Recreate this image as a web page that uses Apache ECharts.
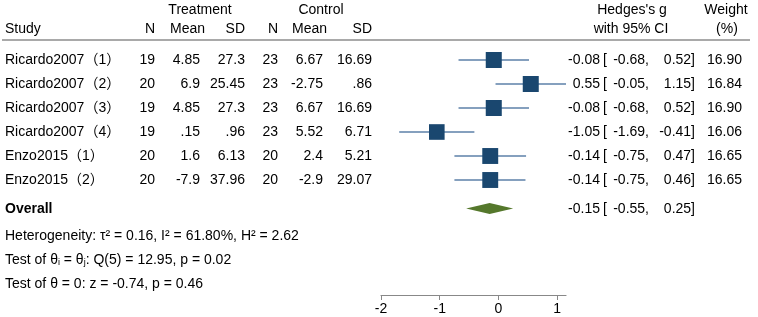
<!DOCTYPE html>
<html><head><meta charset="utf-8">
<script src="https://cdn.jsdelivr.net/npm/echarts@6/dist/echarts.min.js"></script>
<style>html,body{margin:0;padding:0;background:#fff}#c{width:758px;height:317px}</style>
</head><body><div id="c"></div>
<script>
// ---- data ----
const studies = ['Ricardo2007（1）','Ricardo2007（2）','Ricardo2007（3）','Ricardo2007（4）','Enzo2015（1）','Enzo2015（2）'];
const nT = ['19','20','19','19','20','20'];
const meanT = ['4.85','6.9','4.85','.15','1.6','-7.9'];
const sdT = ['27.3','25.45','27.3','.96','6.13','37.96'];
const nC = ['23','23','23','23','20','20'];
const meanC = ['6.67','-2.75','6.67','5.52','2.4','-2.9'];
const sdC = ['16.69','.86','16.69','6.71','5.21','29.07'];
const effect = [-0.08, 0.55, -0.08, -1.05, -0.14, -0.14];
const ciLow = [-0.68, -0.05, -0.68, -1.69, -0.75, -0.75];
const ciHigh = [0.52, 1.15, 0.52, -0.41, 0.47, 0.46];
const weight = [16.90, 16.84, 16.90, 16.06, 16.65, 16.65];
const overallEffect = -0.15;
const overallLow = -0.55;
const overallHigh = 0.25;
const xTicks = [-2, -1, 0, 1];

// ---- layout ----
const FONT = "'Liberation Sans','Noto Sans CJK SC',sans-serif";
const FS = 14;
const OVERALL_ROW = 6.19;
const fmt = v => v.toFixed(2);
const fmtW = v => v.toFixed(2);

const chart = echarts.init(document.getElementById('c'), null, {renderer: 'canvas'});

function txt(text, x, y, align, bold) {
  return {type: 'text', x: x, y: y, silent: true,
    style: {text: text, fill: '#000', font: (bold ? 'bold ' : '') + FS + 'px ' + FONT, align: align, verticalAlign: 'middle'}};
}

const rowIdx = studies.map((s, i) => [0, i]);

const option = {
  animation: false,
  backgroundColor: '#fff',
  grid: {left: 381, right: 192, top: 0, bottom: 22, containLabel: false},
  xAxis: {
    type: 'value', min: -2, max: 1.15,
    splitLine: {show: false},
    axisLine: {show: true, onZero: false, lineStyle: {color: '#888', width: 1.2}},
    axisTick: {show: true, inside: false, length: 5, customValues: xTicks, lineStyle: {color: '#888'}},
    axisLabel: {customValues: xTicks, color: '#000', fontSize: FS, fontFamily: FONT, margin: 7}
  },
  yAxis: {type: 'value', inverse: true, min: -2.5, max: 9.7917, show: false},
  graphic: [
    txt('Treatment', 200, 10, 'center'),
    txt('Control', 321, 10, 'center'),
    txt('Study', 5, 29, 'left'),
    txt('N', 155, 29, 'right'),
    txt('Mean', 205, 29, 'right'),
    txt('SD', 245, 29, 'right'),
    txt('N', 278, 29, 'right'),
    txt('Mean', 327, 29, 'right'),
    txt('SD', 372, 29, 'right'),
    txt('Hedges\'s g', 632, 10, 'center'),
    txt('with 95% CI', 631, 29, 'center'),
    txt('Weight', 726, 10, 'center'),
    txt('(%)', 727, 29, 'center'),
    {type: 'line', silent: true, shape: {x1: 2, y1: 40, x2: 750, y2: 40}, style: {stroke: '#555', lineWidth: 1.2}},
    txt('Heterogeneity: τ² = 0.16, I² = 61.80%, H² = 2.62', 5, 236, 'left'),
    {type: 'text', x: 5, y: 260, silent: true, style: {
      text: 'Test of θ{s|i} = θ{s|j}: Q(5) = 12.95, p = 0.02',
      fill: '#000', font: FS + 'px ' + FONT, verticalAlign: 'middle', align: 'left',
      rich: {s: {fontSize: 9, fontFamily: FONT, verticalAlign: 'bottom', lineHeight: 10, padding: [6, 0, 0, 0]}}
    }},
    txt('Test of θ = 0: z = -0.74, p = 0.46', 5, 284, 'left')
  ],
  series: [
    {
      // table text columns
      type: 'custom', silent: true, data: rowIdx,
      renderItem: function (params, api) {
        const i = params.dataIndex;
        const y = api.coord([0, i])[1];
        return {type: 'group', children: [
          txt(studies[i], 5, y, 'left'),
          txt(nT[i], 155, y, 'right'),
          txt(meanT[i], 200, y, 'right'),
          txt(sdT[i], 245, y, 'right'),
          txt(nC[i], 278, y, 'right'),
          txt(meanC[i], 323, y, 'right'),
          txt(sdC[i], 372, y, 'right'),
          txt(fmt(effect[i]), 600, y, 'right'),
          txt('[', 603, y, 'left'),
          txt(fmt(ciLow[i]) + ',', 649, y, 'right'),
          txt(fmt(ciHigh[i]) + ']', 695, y, 'right'),
          txt(fmtW(weight[i]), 742, y, 'right')
        ]};
      }
    },
    {
      // confidence intervals
      type: 'custom', silent: true,
      data: effect.map((e, i) => [ciLow[i], ciHigh[i], i]),
      encode: {x: [0, 1], y: 2},
      renderItem: function (params, api) {
        const p1 = api.coord([api.value(0), api.value(2)]);
        const p2 = api.coord([api.value(1), api.value(2)]);
        return {type: 'line', shape: {x1: p1[0], y1: p1[1], x2: p2[0], y2: p2[1]},
          style: {stroke: '#5d80a8', lineWidth: 1.3}};
      }
    },
    {
      type: 'scatter', silent: true,
      symbol: 'rect',
      data: effect.map((e, i) => [e, i, weight[i]]),
      symbolSize: v => Math.sqrt(v[2]) * 3.9,
      itemStyle: {color: '#1a476f', opacity: 1}
    },
    {
      // overall diamond + row text
      type: 'custom', silent: true,
      data: [[overallLow, overallHigh, overallEffect, OVERALL_ROW]],
      encode: {x: [0, 1], y: 3},
      renderItem: function (params, api) {
        const y = api.coord([0, api.value(3)])[1];
        const xl = api.coord([api.value(0), 0])[0];
        const xh = api.coord([api.value(1), 0])[0];
        const xe = api.coord([api.value(2), 0])[0];
        const h = 5.5;
        return {type: 'group', children: [
          {type: 'polygon', shape: {points: [[xl, y], [xe, y - h], [xh, y], [xe, y + h]]},
            style: {fill: '#55782c'}},
          txt('Overall', 5, y + 1, 'left', true),
          txt(fmt(api.value(2)), 600, y + 1, 'right'),
          txt('[', 603, y + 1, 'left'),
          txt(fmt(api.value(0)) + ',', 649, y + 1, 'right'),
          txt(fmt(api.value(1)) + ']', 695, y + 1, 'right')
        ]};
      }
    }
  ]
};
chart.setOption(option);
</script>
</body></html>
